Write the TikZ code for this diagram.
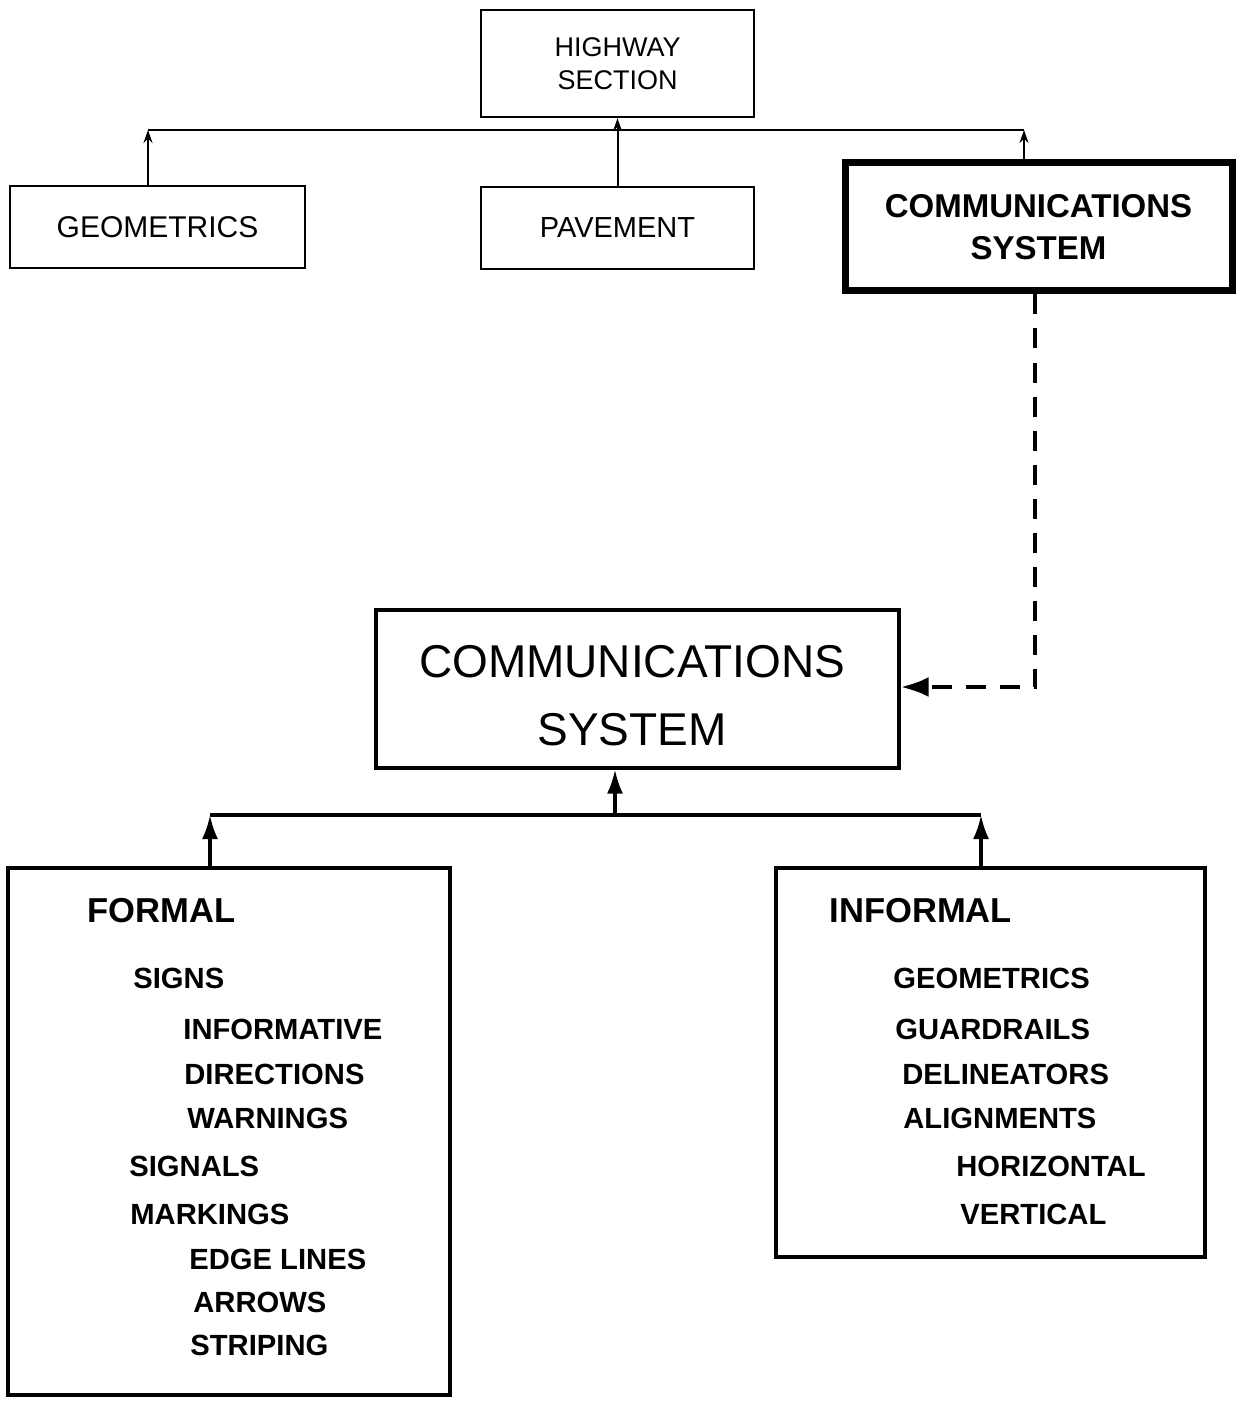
\documentclass[tikz,border=0pt]{standalone}
\usepackage{fontspec}
\setmainfont{Liberation Sans}
\usetikzlibrary{arrows.meta}
\begin{document}
\begin{tikzpicture}[x=0.5pt,y=-0.5pt,
  box/.style={draw, rectangle, inner sep=0pt, align=center},
  item/.style={anchor=west, inner sep=0pt, font=\bfseries\fontsize{14.6}{16}\selectfont},
  head/.style={anchor=west, inner sep=0pt, font=\bfseries\fontsize{17.3}{19}\selectfont},
  smallarr/.style={line width=1pt, -{Stealth[length=6.5pt,width=4.5pt]}},
  bigarr/.style={line width=1.6pt, -{Latex[length=12pt,width=8pt]}},
  dasharr/.style={line width=2.2pt, dash pattern=on 10pt off 7pt, -{Latex[length=14pt,width=10pt]}}
]
\useasboundingbox (0,0) rectangle (1237,1401);

% top level
\node[box, line width=1.2pt, minimum width=136.5pt, minimum height=53.5pt,
      font=\fontsize{13.5}{16.5}\selectfont] (hw) at (617.5,63.5) {HIGHWAY\\SECTION};
\node[box, line width=1.2pt, minimum width=147.5pt, minimum height=41pt,
      font=\fontsize{15}{17}\selectfont] (geo) at (157.5,227) {GEOMETRICS};
\node[box, line width=1.2pt, minimum width=136.5pt, minimum height=41pt,
      font=\fontsize{14.5}{17}\selectfont] (pav) at (617.5,228) {PAVEMENT};
\node[box, line width=3.5pt, minimum width=193.5pt, minimum height=64pt,
      font=\bfseries\fontsize{16.5}{21}\selectfont] (ct) at (1038.5,227) {COMMUNICATIONS\\SYSTEM};

\coordinate (j1) at (148,130);
\coordinate (j3) at (1024,130);
\draw[line width=1pt] (j1) -- (j3);
\draw[smallarr] (geo.north -| j1) -- (j1);
\draw[smallarr] (pav.north) -- (hw.south);
\draw[smallarr] (ct.north -| j3) -- (j3);

% middle
\node[box, line width=1.6pt, minimum width=261.5pt, minimum height=79pt] (big) at (637.5,689) {};
\node[inner sep=0pt, align=center, font=\fontsize{23}{34}\selectfont] (bigt) at (632,696) {COMMUNICATIONS\\SYSTEM};

\coordinate (d1) at (1035,687);
\draw[dasharr] (ct.south -| d1) -- (d1) -- (big.east |- d1);

% bottom boxes
\node[box, line width=1.6pt, minimum width=221pt, minimum height=263.5pt] (formal) at (229,1131.5) {};
\node[box, line width=1.6pt, minimum width=214.5pt, minimum height=194.5pt] (informal) at (990.5,1062.5) {};

\coordinate (j4) at (210,815);
\coordinate (j5) at (981,815);
\coordinate (j6) at (615,815);
\draw[line width=1.6pt] (j4) -- (j5);
\draw[bigarr] (formal.north -| j4) -- (j4);
\draw[bigarr] (informal.north -| j5) -- (j5);
\draw[bigarr] (j6) -- (big.south -| j6);

% formal list
\node[head] (fh) at (87,911) {FORMAL};
\node[item] (f1) at (133,978) {SIGNS};
\node[item] (f2) at (183,1029) {INFORMATIVE};
\node[item] (f3) at (184,1074) {DIRECTIONS};
\node[item] (f4) at (187,1118) {WARNINGS};
\node[item] (f5) at (129,1166) {SIGNALS};
\node[item] (f6) at (130,1214) {MARKINGS};
\node[item] (f7) at (189,1259) {EDGE LINES};
\node[item] (f8) at (193,1302) {ARROWS};
\node[item] (f9) at (190,1345) {STRIPING};

% informal list
\node[head] (ih) at (829,911) {INFORMAL};
\node[item] (i1) at (893,978) {GEOMETRICS};
\node[item] (i2) at (895,1029) {GUARDRAILS};
\node[item] (i3) at (902,1074) {DELINEATORS};
\node[item] (i4) at (903,1118) {ALIGNMENTS};
\node[item] (i5) at (956,1166) {HORIZONTAL};
\node[item] (i6) at (960,1214) {VERTICAL};
\end{tikzpicture}
\end{document}
